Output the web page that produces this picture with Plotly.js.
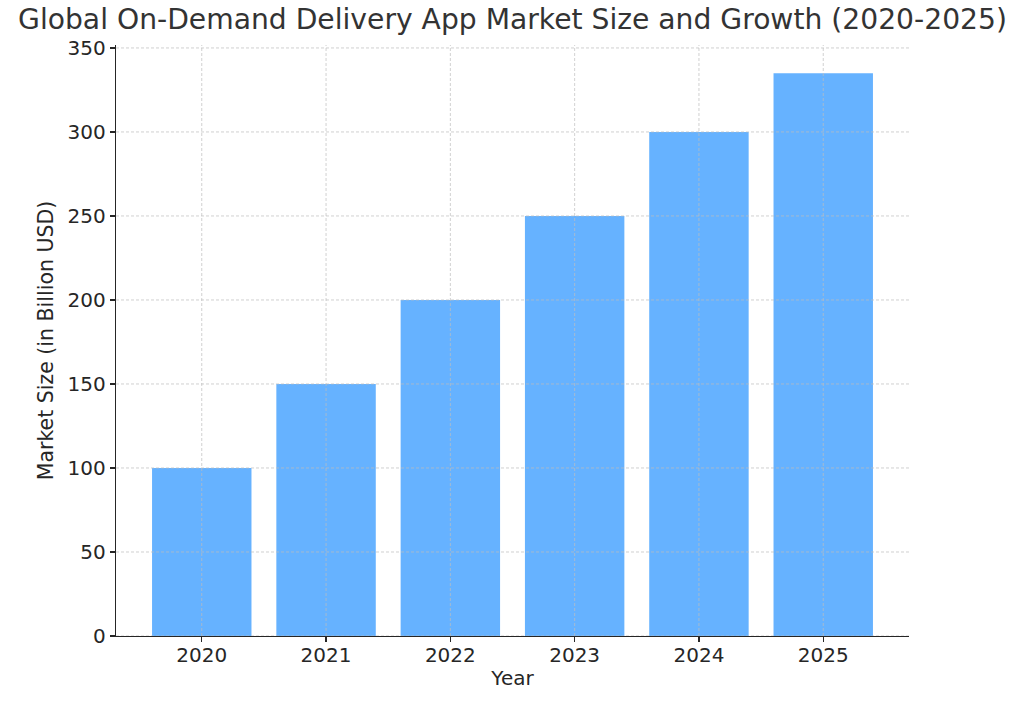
<!DOCTYPE html>
<html>
<head>
<meta charset="utf-8">
<script src="https://cdn.plot.ly/plotly-3.0.1.min.js"></script>
<style>html,body{margin:0;padding:0;background:#fff}#chart{width:1024px;height:705px}</style>
</head>
<body>
<div id="chart"></div>
<script>
const years = [2020, 2021, 2022, 2023, 2024, 2025];
const marketSize = [100, 150, 200, 250, 300, 335];
const yTicks = [0, 50, 100, 150, 200, 250, 300, 350];
const xTickLabels = ['2020', '2021', '2022', '2023', '2024', '2025'];

const gridStyle = {color: 'rgba(190,190,190,0.7)', width: 1, dash: '3px,2px'};
const shapes = [];
yTicks.forEach(v => shapes.push({type: 'line', xref: 'paper', yref: 'y', x0: 0, x1: 1, y0: v, y1: v, layer: 'above', line: gridStyle}));
years.forEach(v => shapes.push({type: 'line', xref: 'x', yref: 'paper', x0: v, x1: v, y0: 0, y1: 1, layer: 'above', line: gridStyle}));

const trace = {
  type: 'bar',
  x: years,
  y: marketSize,
  width: 0.8,
  marker: {color: '#66b2ff', line: {width: 0}},
  hoverinfo: 'x+y'
};

const font = {family: 'DejaVu Sans, sans-serif', size: 20, color: '#262626'};
const layout = {
  width: 1024, height: 705,
  margin: {l: 116, r: 115, t: 45, b: 69},
  paper_bgcolor: '#fff', plot_bgcolor: '#fff',
  font: font,
  title: {text: 'Global On-Demand Delivery App Market Size and Growth (2020-2025)', font: {family: 'DejaVu Sans, sans-serif', size: 28.2, color: '#333333'}, x: 0.5, xanchor: 'center', y: 0.973, yanchor: 'middle', xref: 'paper'},
  xaxis: {
    range: [2019.31, 2025.69],
    tickvals: years, ticktext: xTickLabels,
    showgrid: false, zeroline: false,
    showline: true, linecolor: '#262626', linewidth: 1.3,
    ticks: 'outside', ticklen: 5, tickcolor: '#262626', tickwidth: 1.3,
    ticklabelstandoff: -4,
    tickfont: font,
    title: {text: 'Year', font: font, standoff: 4},
    layer: 'above traces'
  },
  yaxis: {
    range: [0, 351.75],
    tickvals: yTicks,
    showgrid: false, zeroline: false,
    showline: true, linecolor: '#262626', linewidth: 1.3,
    ticks: 'outside', ticklen: 5, tickcolor: '#262626', tickwidth: 1.3,
    tickfont: font,
    title: {text: 'Market Size (in Billion USD)', font: {family: 'DejaVu Sans, sans-serif', size: 20.5, color: '#262626'}, standoff: 8},
    layer: 'above traces'
  },
  shapes: shapes,
  showlegend: false,
  bargap: 0.2
};

Plotly.newPlot('chart', [trace], layout, {displayModeBar: false, staticPlot: true});
</script>
</body>
</html>
